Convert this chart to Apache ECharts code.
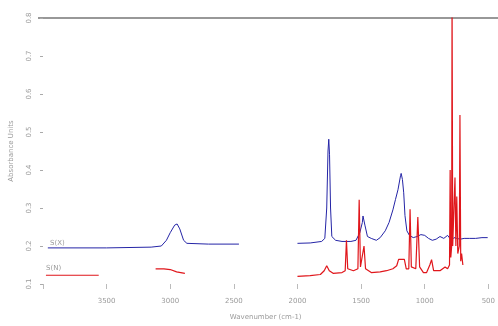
<!DOCTYPE html>
<html>
<head>
<meta charset="utf-8">
<script src="https://cdn.jsdelivr.net/npm/echarts@6/dist/echarts.min.js"></script>
<style>
  html, body { margin: 0; padding: 0; background: #fff; }
  #chart { width: 498px; height: 326px; }
</style>
</head>
<body>
<div id="chart"></div>
<script>
// spectra: wavenumber (cm-1) and absorbance
var blueWavenumbers = [3962, 3500, 3150, 3070, 3030, 3000, 2965, 2946, 2925, 2895, 2869, 2700, 2460, 2300,
    2000, 1900, 1810, 1785, 1770, 1760, 1754, 1748, 1740, 1730, 1700, 1650, 1580, 1540, 1510, 1490, 1485,
    1470, 1450, 1420, 1380, 1350, 1310, 1280, 1250, 1230, 1210, 1190, 1185, 1175, 1165, 1155, 1140, 1120,
    1090, 1060, 1030, 1000, 970, 940, 910, 880, 850, 820, 790, 770, 750, 720, 690, 650, 600, 550, 505];
var blueValues = [0.195, 0.195, 0.197, 0.2, 0.215, 0.235, 0.255, 0.258, 0.245, 0.215, 0.207, 0.205, 0.205, null,
    0.207, 0.208, 0.212, 0.22, 0.3, 0.45, 0.481, 0.44, 0.3, 0.225, 0.215, 0.212, 0.212, 0.215, 0.235, 0.262, 0.279,
    0.255, 0.225, 0.22, 0.215, 0.222, 0.24, 0.262, 0.295, 0.322, 0.348, 0.385, 0.391, 0.375, 0.34, 0.28, 0.24, 0.228,
    0.222, 0.225, 0.23, 0.228, 0.22, 0.215, 0.218, 0.225, 0.22, 0.228, 0.215, 0.222, 0.22, 0.218, 0.22, 0.22, 0.22, 0.222, 0.222];

var redWavenumbers = [3977, 3562, 3300, 3115, 3050, 3000, 2950, 2885, 2500,
    2000, 1900, 1820, 1790, 1770, 1750, 1720, 1650, 1625, 1615, 1605, 1560, 1525, 1515, 1505, 1490, 1477, 1465,
    1420, 1350, 1300, 1250, 1220, 1205, 1190, 1160, 1145, 1125, 1115, 1105, 1070, 1054, 1040, 1010, 985, 960,
    946, 930, 880, 840, 820, 805, 800, 795, 788, 785, 780, 768, 762, 755, 748, 740, 728, 723, 717, 710, 700];
var redValues = [0.123, 0.123, null, 0.14, 0.14, 0.138, 0.132, 0.128, null,
    0.12, 0.122, 0.125, 0.135, 0.148, 0.135, 0.128, 0.13, 0.135, 0.215, 0.14, 0.135, 0.14, 0.322, 0.145, 0.15, 0.2, 0.14,
    0.13, 0.132, 0.135, 0.14, 0.148, 0.165, 0.16, 0.165, 0.14, 0.14, 0.297, 0.145, 0.14, 0.276, 0.145, 0.13, 0.13, 0.15,
    0.164, 0.135, 0.135, 0.145, 0.14, 0.15, 0.4, 0.17, 0.2, 0.86, 0.2, 0.2, 0.38, 0.2, 0.33, 0.18, 0.2, 0.545, 0.16, 0.18, 0.15];

var seriesNames = ["S(X)", "S(N)"];
var xTicks = [4000, 3500, 3000, 2500, 2000, 1500, 1000, 500];

var pairs = function (xs, ys) {
    return xs.map(function (x, i) {
        return [x, ys[i]];
    });
};

var chart = echarts.init(document.getElementById("chart"));
var faint = "#9a9a9a";
var option = {
    animation: false,
    grid: {left: 40, right: 8, top: 18, bottom: 34},
    xAxis: {
        type: "value",
        inverse: true,
        min: 500,
        max: 4000,
        interval: 500,
        name: "Wavenumber (cm-1)",
        nameLocation: "middle",
        nameGap: 30,
        nameTextStyle: {color: faint, fontSize: 7, fontFamily: "DejaVu Sans"},
        axisLine: {show: false},
        axisTick: {show: true, length: 5, lineStyle: {color: "#bbb"}},
        axisLabel: {
            color: faint, fontSize: 7, margin: 14, fontFamily: "DejaVu Sans",
            formatter: function (v) {
                return v === xTicks[0] ? "" : String(v);
            }
        },
        splitLine: {show: false}
    },
    yAxis: {
        type: "value",
        min: 0.1,
        max: 0.8,
        interval: 0.1,
        name: "Absorbance Units",
        nameLocation: "middle",
        nameGap: 28,
        nameTextStyle: {color: faint, fontSize: 7, fontFamily: "DejaVu Sans"},
        axisLine: {show: false},
        axisTick: {show: true, length: 3, lineStyle: {color: "#aaa"}},
        axisLabel: {
            color: faint, fontSize: 7, margin: 10, rotate: 90, fontFamily: "DejaVu Sans",
            formatter: function (v) {
                return v.toFixed(1);
            }
        },
        splitLine: {show: false}
    },
    graphic: [
        {type: "line", shape: {x1: 38, y1: 18, x2: 498, y2: 18}, style: {stroke: "#333", lineWidth: 1.2}},
        {type: "text", left: 50, top: 240, style: {text: seriesNames[0], fill: faint, font: "7px DejaVu Sans"}},
        {type: "text", left: 46, top: 265, style: {text: seriesNames[1], fill: faint, font: "7px DejaVu Sans"}}
    ],
    series: [{
        name: seriesNames[0],
        type: "line",
        data: pairs(blueWavenumbers, blueValues),
        showSymbol: false,
        clip: true,
        connectNulls: false,
        lineStyle: {color: "#2424a6", width: 1}
    }, {
        name: seriesNames[1],
        type: "line",
        data: pairs(redWavenumbers, redValues),
        showSymbol: false,
        clip: true,
        connectNulls: false,
        lineStyle: {color: "#e0161b", width: 1.2}
    }]
};
chart.setOption(option);
</script>
</body>
</html>
